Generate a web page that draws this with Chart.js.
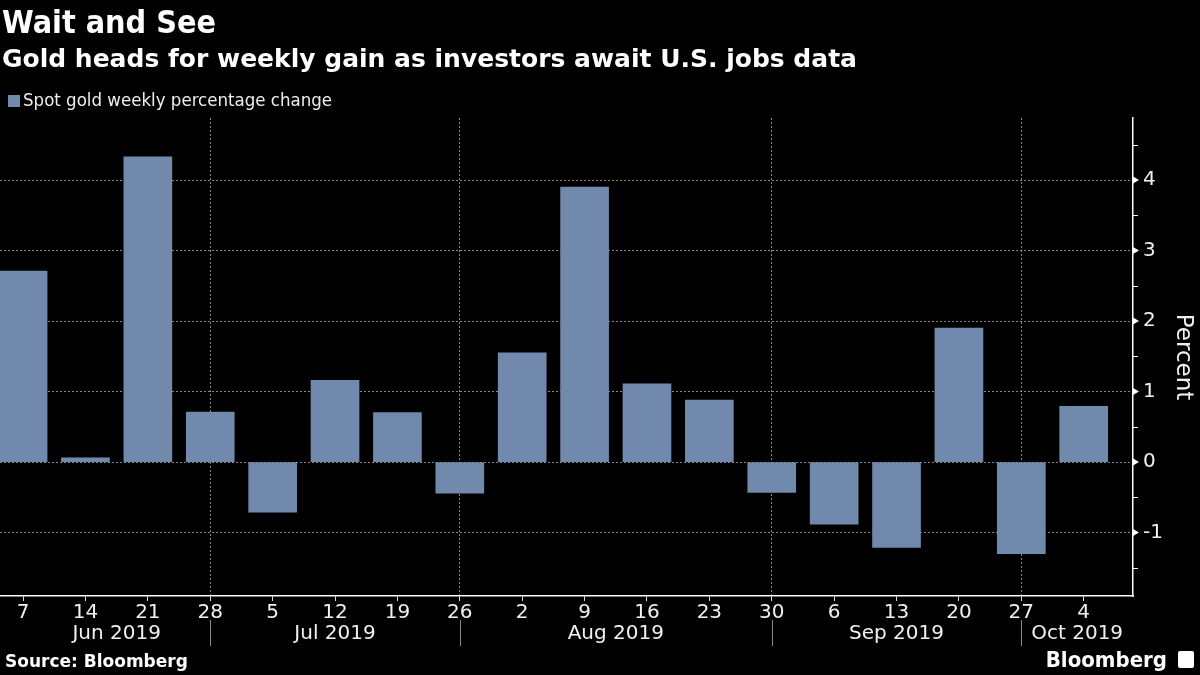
<!DOCTYPE html>
<html>
<head>
<meta charset="utf-8">
<script src="https://cdn.jsdelivr.net/npm/chart.js@4/dist/chart.umd.min.js"></script>
<style>
  body { margin: 0; background: #000; width: 1200px; height: 675px; overflow: hidden; position: relative;
         font-family: "DejaVu Sans Condensed", "DejaVu Sans", sans-serif; color: #fff; }
  .txt { position: absolute; white-space: nowrap; }
  #title { left: 2px; top: 3px; font-size: 32px; font-weight: bold; }
  #subtitle { left: 2px; top: 44px; font-size: 25px; font-weight: bold; font-family: "DejaVu Sans", sans-serif; }
  #legend { left: 8px; top: 89px; font-size: 18.5px; color: #eee; }
  #legend span { display: inline-block; width: 12px; height: 12px; background: #7189ad; margin-right: 3px; vertical-align: -1px; }
  #source { left: 5px; top: 651px; font-size: 17px; font-weight: bold; font-family: "DejaVu Sans", sans-serif; }
  #brand { right: 33px; top: 647px; font-size: 22px; font-weight: bold; }
  #icon { position: absolute; left: 1178px; top: 651px; width: 16px; height: 17px; background: #fff; border-radius: 2px; }
  #chartBox { position: absolute; left: 0; top: 0; width: 1200px; height: 675px; }
</style>
</head>
<body>
<div id="chartBox"><canvas id="goldChart"></canvas></div>
<div class="txt" id="title">Wait and See</div>
<div class="txt" id="subtitle">Gold heads for weekly gain as investors await U.S. jobs data</div>
<div class="txt" id="legend"><span></span>Spot gold weekly percentage change</div>
<div class="txt" id="source">Source: Bloomberg</div>
<div class="txt" id="brand">Bloomberg</div>
<div id="icon"></div>

<script>
// Wochen (Freitage) und Werte
const weekDays = ['7', '14', '21', '28', '5', '12', '19', '26', '2', '9', '16', '23', '30', '6', '13', '20', '27', '4'];
const weeklyChange = [2.71, 0.06, 4.33, 0.71, -0.71, 1.16, 0.70, -0.44, 1.55, 3.90, 1.11, 0.88, -0.43, -0.88, -1.21, 1.90, -1.30, 0.79];
const monthLabels = ['Jun 2019', 'Jul 2019', 'Aug 2019', 'Sep 2019', 'Oct 2019'];
// letzte Woche jedes Monats -> Trennlinie
const monthSeparators = [3, 7, 12, 16];
const yTickValues = [-1, 0, 1, 2, 3, 4];

const barColor = '#7189ad';
const tickFont = '"DejaVu Sans", sans-serif';
const X_MIN = -0.37, X_MAX = 17.79;
const Y_MIN = -1.9, Y_MAX = 4.88;

// Monatsbeschriftung, Trennlinien unter der Achse und Tick-Marker rechts
const axisExtras = {
    id: 'axisExtras',
    afterDraw(chart) {
        const ctx = chart.ctx;
        const x = chart.scales.x;
        const y = chart.scales.y;
        const area = chart.chartArea;

        // Trennlinien unterhalb der Achse
        ctx.save();
        ctx.strokeStyle = '#8a8a8a';
        ctx.lineWidth = 1;
        monthSeparators.forEach(idx => {
            const px = Math.round(x.getPixelForValue(idx)) + 0.5;
            ctx.beginPath();
            ctx.moveTo(px, area.bottom + 24);
            ctx.lineTo(px, area.bottom + 50);
            ctx.stroke();
        });

        // Monatsnamen mittig zwischen den Trennlinien
        const bounds = [0, ...monthSeparators, X_MAX];
        ctx.fillStyle = '#f0f0f0';
        ctx.font = '20px ' + tickFont;
        ctx.textAlign = 'center';
        ctx.textBaseline = 'middle';
        monthLabels.forEach((label, i) => {
            const mid = (bounds[i] + bounds[i + 1]) / 2;
            ctx.fillText(label, x.getPixelForValue(mid), area.bottom + 38);
        });

        // kleine Ticks an der rechten Achse
        const ax = area.right;
        ctx.fillStyle = '#ffffff';
        ctx.strokeStyle = '#ffffff';
        for (let v = Math.ceil(Y_MIN * 2) / 2; v <= Y_MAX; v += 0.5) {
            const py = y.getPixelForValue(v);
            if (Number.isInteger(v)) {
                ctx.beginPath();
                ctx.moveTo(ax, py - 3.5);
                ctx.lineTo(ax + 6, py);
                ctx.lineTo(ax, py + 3.5);
                ctx.closePath();
                ctx.fill();
            } else {
                ctx.beginPath();
                ctx.moveTo(ax, Math.round(py) + 0.5);
                ctx.lineTo(ax + 5, Math.round(py) + 0.5);
                ctx.stroke();
            }
        }
        ctx.restore();
    }
};

new Chart('goldChart', {
    type: 'bar',
    data: {
        datasets: [{
            data: weeklyChange.map((v, i) => ({x: i, y: v})),
            backgroundColor: barColor,
            barThickness: 48
        }]
    },
    options: {
        responsive: true,
        maintainAspectRatio: false,
        animation: false,
        layout: {padding: {top: 118, left: 0, right: 0, bottom: 0}},
        plugins: {
            legend: {display: false},
            tooltip: {enabled: false}
        },
        scales: {
            x: {
                type: 'linear',
                min: X_MIN,
                max: X_MAX,
                offset: false,
                afterBuildTicks: scale => {
                    scale.ticks = weekDays.map((d, i) => ({value: i}));
                },
                afterFit: scale => { scale.height = 79; },
                ticks: {
                    color: '#f0f0f0',
                    font: {family: tickFont, size: 20},
                    padding: 0,
                    maxRotation: 0,
                    autoSkip: false,
                    callback: (v) => weekDays[v] ?? ''
                },
                grid: {
                    offset: false,
                    color: ctx => monthSeparators.includes(ctx.tick?.value) ? 'rgba(170,170,170,0.8)' : 'rgba(0,0,0,0)',
                    tickColor: '#dddddd',
                    tickLength: 5,
                    lineWidth: 1
                },
                border: {display: true, color: '#ffffff', width: 1.5, dash: [2, 2]}
            },
            y: {
                position: 'right',
                min: Y_MIN,
                max: Y_MAX,
                afterBuildTicks: scale => {
                    scale.ticks = yTickValues.map(v => ({value: v}));
                },
                afterFit: scale => { scale.width = 67; },
                ticks: {
                    color: '#f0f0f0',
                    font: {family: tickFont, size: 20},
                    padding: 10,
                    callback: v => String(v)
                },
                grid: {
                    color: 'rgba(170,170,170,0.8)',
                    drawTicks: false,
                    lineWidth: 1
                },
                border: {display: true, color: '#ffffff', width: 1.5, dash: [2, 2]},
                title: {
                    display: true,
                    text: 'Percent',
                    color: '#f0f0f0',
                    font: {family: tickFont, size: 23},
                    padding: 3
                }
            }
        }
    },
    plugins: [axisExtras]
});
</script>
</body>
</html>
